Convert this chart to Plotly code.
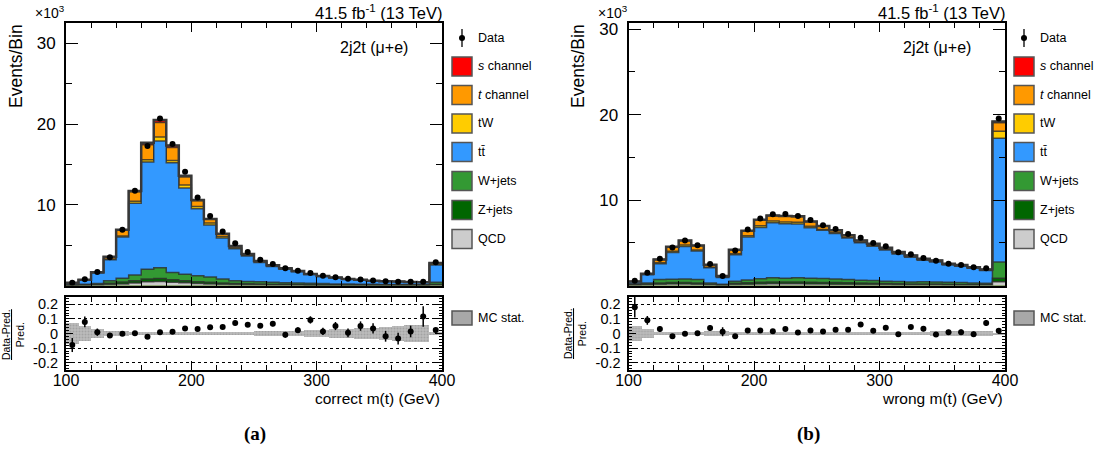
import numpy as np
import plotly.graph_objects as go

W, H = 1101, 453

# ---------------- data (events, in units of 10^3 per 10 GeV bin) ----------------
bin_edges = list(range(100, 401, 10))
bin_centers = [e + 5 for e in bin_edges[:-1]]

# panel (a): correct m(t)
a_qcd = [0.01, 0.03, 0.06, 0.12, 0.20, 0.30, 0.45, 0.50, 0.40, 0.33, 0.26, 0.20, 0.16, 0.12, 0.10,
         0.08, 0.07, 0.06, 0.05, 0.04, 0.035, 0.03, 0.03, 0.025, 0.02, 0.02, 0.02, 0.02, 0.02, 0.06]
a_zjets = [0.02, 0.04, 0.07, 0.15, 0.22, 0.30, 0.35, 0.38, 0.30, 0.27, 0.22, 0.20, 0.16, 0.13, 0.11,
           0.10, 0.09, 0.08, 0.07, 0.06, 0.055, 0.05, 0.045, 0.04, 0.035, 0.03, 0.03, 0.03, 0.03, 0.10]
a_wjets = [0.05, 0.08, 0.12, 0.31, 0.48, 0.70, 1.20, 1.32, 0.90, 0.80, 0.72, 0.65, 0.48, 0.35, 0.29,
           0.27, 0.24, 0.21, 0.18, 0.17, 0.15, 0.12, 0.105, 0.095, 0.085, 0.08, 0.07, 0.06, 0.05, 0.24]
a_ttbar = [0.25, 0.53, 1.30, 2.62, 5.10, 8.90, 13.30, 15.70, 13.60, 10.70, 8.30, 6.45, 5.10, 3.95, 3.15,
           2.40, 1.95, 1.67, 1.40, 1.08, 0.88, 0.73, 0.60, 0.51, 0.43, 0.38, 0.34, 0.31, 0.28, 2.15]
a_tw = [0.005, 0.01, 0.03, 0.08, 0.15, 0.25, 0.30, 0.50, 0.30, 0.35, 0.30, 0.25, 0.18, 0.13, 0.10,
        0.08, 0.06, 0.05, 0.04, 0.03, 0.025, 0.02, 0.015, 0.012, 0.012, 0.012, 0.012, 0.008, 0.008, 0.10]
a_tch = [0.014, 0.028, 0.065, 0.25, 0.70, 1.17, 1.85, 1.80, 1.60, 1.00, 0.72, 0.46, 0.30, 0.21, 0.14,
         0.115, 0.085, 0.076, 0.057, 0.038, 0.033, 0.028, 0.023, 0.016, 0.016, 0.016, 0.016, 0.01, 0.01, 0.14]
a_sch = [0.001, 0.002, 0.005, 0.02, 0.05, 0.08, 0.25, 0.30, 0.25, 0.15, 0.08, 0.04, 0.02, 0.01, 0.01,
         0.005, 0.005, 0.004, 0.003, 0.002, 0.002, 0.002, 0.002, 0.002, 0.002, 0.002, 0.002, 0.002, 0.002, 0.01]
a_data = [0.33, 0.78, 1.67, 3.50, 6.90, 11.75, 17.30, 20.70, 17.55, 14.10, 10.90, 8.60, 6.70, 5.25, 4.15,
          3.20, 2.67, 2.13, 1.84, 1.55, 1.20, 1.03, 0.83, 0.74, 0.62, 0.53, 0.47, 0.45, 0.45, 2.88]
a_ratio = [-0.079, 0.079, 0.009, -0.014, -0.002, 0.002, -0.023, 0.009, 0.012, 0.035, 0.030, 0.042, 0.044, 0.072, 0.060,
           0.053, 0.067, -0.009, 0.023, 0.093, 0.014, 0.051, 0.005, 0.051, 0.035, -0.019, -0.035, 0.014, 0.116, 0.024]
a_ratio_err = [0.048, 0.037, 0.025, 0.015, 0.010, 0.008, 0.008, 0.008, 0.008, 0.008, 0.008, 0.009, 0.010, 0.015, 0.015,
               0.015, 0.018, 0.020, 0.020, 0.025, 0.025, 0.028, 0.030, 0.032, 0.035, 0.037, 0.040, 0.040, 0.070, 0.015]
a_mcstat = [0.070, 0.050, 0.030, 0.020, 0.015, 0.010, 0.010, 0.010, 0.010, 0.010, 0.010, 0.010, 0.011, 0.012, 0.013,
            0.014, 0.015, 0.018, 0.020, 0.022, 0.025, 0.030, 0.030, 0.035, 0.040, 0.045, 0.050, 0.055, 0.060, 0.008]

# panel (b): wrong m(t)
b_qcd = [0.05, 0.10, 0.15, 0.18, 0.18, 0.15, 0.08, 0.04, 0.12, 0.15, 0.18, 0.20, 0.20, 0.20, 0.18,
         0.17, 0.16, 0.15, 0.13, 0.12, 0.11, 0.10, 0.09, 0.09, 0.08, 0.07, 0.06, 0.06, 0.05, 0.45]
b_zjets = [0.05, 0.08, 0.15, 0.17, 0.17, 0.15, 0.08, 0.04, 0.13, 0.17, 0.20, 0.22, 0.22, 0.22, 0.20,
           0.19, 0.18, 0.17, 0.15, 0.14, 0.12, 0.11, 0.10, 0.10, 0.09, 0.08, 0.07, 0.07, 0.06, 0.40]
b_wjets = [0.10, 0.12, 0.40, 0.37, 0.40, 0.40, 0.14, 0.07, 0.25, 0.33, 0.42, 0.48, 0.43, 0.50, 0.47,
           0.46, 0.41, 0.38, 0.34, 0.34, 0.27, 0.27, 0.23, 0.26, 0.23, 0.23, 0.22, 0.17, 0.14, 1.90]
b_ttbar = [0.23, 0.95, 1.84, 3.15, 3.83, 3.33, 1.77, 0.79, 3.10, 5.02, 6.00, 6.45, 6.39, 6.28, 5.92,
           5.64, 5.35, 4.85, 4.38, 4.00, 3.65, 3.20, 2.88, 2.50, 2.35, 2.02, 1.90, 1.73, 1.52, 14.50]
b_tw = [0.01, 0.03, 0.11, 0.15, 0.15, 0.14, 0.08, 0.04, 0.13, 0.16, 0.20, 0.19, 0.20, 0.20, 0.16,
        0.11, 0.08, 0.07, 0.06, 0.07, 0.06, 0.05, 0.05, 0.04, 0.04, 0.03, 0.03, 0.03, 0.03, 0.82]
b_tch = [0.03, 0.085, 0.38, 0.49, 0.52, 0.49, 0.26, 0.11, 0.43, 0.55, 0.66, 0.62, 0.66, 0.66, 0.53,
         0.37, 0.26, 0.23, 0.20, 0.20, 0.19, 0.16, 0.16, 0.13, 0.13, 0.10, 0.10, 0.08, 0.07, 1.00]
b_sch = [0.002, 0.005, 0.02, 0.03, 0.03, 0.03, 0.02, 0.01, 0.03, 0.04, 0.04, 0.04, 0.04, 0.04, 0.04,
         0.02, 0.02, 0.02, 0.02, 0.02, 0.02, 0.02, 0.01, 0.01, 0.01, 0.01, 0.01, 0.01, 0.01, 0.13]
b_data = [0.55, 1.50, 3.14, 4.46, 5.27, 4.70, 2.52, 1.11, 4.10, 6.55, 7.85, 8.35, 8.38, 8.15, 7.66,
          7.06, 6.62, 6.02, 5.60, 4.98, 4.60, 3.90, 3.67, 3.23, 2.91, 2.56, 2.41, 2.14, 2.02, 19.55]
b_ratio = [0.180, 0.090, 0.030, -0.019, -0.002, 0.002, 0.037, 0.012, -0.019, 0.021, 0.021, 0.016, 0.030, 0.007, 0.021,
           0.014, 0.025, 0.025, 0.062, 0.018, 0.039, -0.005, 0.044, 0.032, -0.007, 0.009, 0.009, -0.005, 0.072, 0.018]
b_ratio_err = [0.070, 0.030, 0.020, 0.015, 0.010, 0.010, 0.020, 0.030, 0.012, 0.010, 0.010, 0.010, 0.010, 0.010, 0.010,
               0.010, 0.010, 0.010, 0.012, 0.015, 0.015, 0.015, 0.015, 0.016, 0.016, 0.017, 0.018, 0.018, 0.020, 0.008]
b_mcstat = [0.050, 0.030, 0.012, 0.010, 0.010, 0.010, 0.020, 0.020, 0.010, 0.010, 0.010, 0.010, 0.010, 0.010, 0.010,
            0.010, 0.010, 0.010, 0.010, 0.010, 0.010, 0.010, 0.010, 0.010, 0.015, 0.015, 0.015, 0.015, 0.015, 0.005]

stack_names = ["QCD", "Z+jets", "W+jets", "tt\u0304", "tW", "<i>t</i> channel", "<i>s</i> channel"]
stack_colors = ["#cccccc", "#006600", "#339933", "#3399ff", "#ffcc00", "#ff9900", "#ff0000"]
y_max = {"a": 32.5, "b": 30.7}

FONT = "Liberation Sans, Arial, Helvetica, sans-serif"

def fx(x):
    return x / W

def fy(y):
    return 1 - y / H

fig = go.Figure()

def add_panel(comps, data, ratio, ratio_err, mcstat, xm, ym, xr, yr):
    arrs = [np.array(c, dtype=float) for c in comps]
    cums = np.cumsum(np.vstack(arrs), axis=0)
    # draw from the top of the stack downwards, each filled to zero
    for i in range(len(arrs) - 1, -1, -1):
        yv = list(cums[i]) + [cums[i][-1]]
        fig.add_trace(go.Scatter(
            x=bin_edges, y=yv, mode="lines", line=dict(shape="hv", color="rgba(45,45,45,0.8)", width=1.5),
            fill="tozeroy", fillcolor=stack_colors[i], xaxis=xm, yaxis=ym, showlegend=False, hoverinfo="skip"))
    total = cums[-1]
    fig.add_trace(go.Scatter(
        x=bin_edges, y=list(total) + [total[-1]], mode="lines",
        line=dict(shape="hv", color="#383838", width=2.5), xaxis=xm, yaxis=ym, showlegend=False, hoverinfo="skip"))
    fig.add_trace(go.Scatter(
        x=bin_centers, y=data, mode="markers", marker=dict(color="black", size=6),
        xaxis=xm, yaxis=ym, showlegend=False))
    # ratio panel
    st = np.array(mcstat)
    fig.add_trace(go.Bar(
        x=bin_centers, y=list(2 * st), base=list(-st), width=10,
        marker=dict(color="#b4b4b4", line=dict(width=0),
                    pattern=dict(shape=".", fgcolor="#8a8a8a", bgcolor="#bdbdbd", size=3, solidity=0.4)),
        xaxis=xr, yaxis=yr, showlegend=False, hoverinfo="skip"))
    fig.add_trace(go.Scatter(
        x=bin_centers, y=ratio, mode="markers", marker=dict(color="black", size=6),
        error_y=dict(type="data", array=ratio_err, thickness=1.5, width=0, color="black"),
        xaxis=xr, yaxis=yr, showlegend=False))

add_panel([a_qcd, a_zjets, a_wjets, a_ttbar, a_tw, a_tch, a_sch], a_data, a_ratio, a_ratio_err, a_mcstat,
          "x", "y", "x2", "y2")
add_panel([b_qcd, b_zjets, b_wjets, b_ttbar, b_tw, b_tch, b_sch], b_data, b_ratio, b_ratio_err, b_mcstat,
          "x3", "y3", "x4", "y4")

a_dom = [fx(66), fx(442)]
b_dom = [fx(628.5), fx(1005)]
main_dom = [fy(285.5), fy(23.3)]
ratio_dom = [fy(370), fy(297)]

def xaxis(domain, anchor, labels):
    return dict(domain=domain, anchor=anchor, range=[100, 400], showline=True, linewidth=2, linecolor="black",
                mirror="allticks", ticks="inside", tickvals=[100, 200, 300, 400], ticklen=9, tickwidth=1.2,
                tickcolor="black", showticklabels=labels, tickfont=dict(family=FONT, size=16, color="black"),
                ticklabelstandoff=-5, showgrid=False, zeroline=False, automargin=False,
                minor=dict(ticks="inside", dtick=20, tick0=100, ticklen=5, tickwidth=1, tickcolor="black",
                           showgrid=False))

def ymain(domain, anchor, top):
    return dict(domain=domain, anchor=anchor, range=[0, top], showline=True, linewidth=2, linecolor="black",
                mirror="allticks", ticks="inside", tickvals=[10, 20, 30], ticklen=12, tickwidth=1.2,
                tickcolor="black", tickfont=dict(family=FONT, size=17, color="black"), ticklabelstandoff=5,
                showgrid=False, zeroline=False, automargin=False,
                minor=dict(ticks="inside", dtick=5, tick0=0, ticklen=6, tickwidth=1, tickcolor="black",
                           showgrid=False))

def yratio(domain, anchor):
    return dict(domain=domain, anchor=anchor, range=[-0.25, 0.25], showline=True, linewidth=2,
                linecolor="black", mirror="allticks", ticks="inside", tickvals=[-0.2, -0.1, 0, 0.1, 0.2],
                ticktext=["-0.2", "-0.1", "0", "0.1", "0.2"], ticklen=7, tickwidth=1.2, tickcolor="black",
                tickfont=dict(family=FONT, size=14.5, color="black"), ticklabelstandoff=3,
                showgrid=True, gridcolor="black", griddash="dot", gridwidth=1, zeroline=False, automargin=False,
                minor=dict(ticks="inside", dtick=0.02, tick0=0, ticklen=3, tickwidth=1, tickcolor="black",
                           showgrid=False))

fig.update_layout(
    width=W, height=H, autosize=False, margin=dict(l=0, r=0, t=0, b=0, pad=0, autoexpand=False),
    paper_bgcolor="white", plot_bgcolor="white",
    bargap=0, barmode="overlay", showlegend=False,
    font=dict(family=FONT, color="black"),
    xaxis=xaxis(a_dom, "y", False), yaxis=ymain(main_dom, "x", y_max["a"]),
    xaxis2=xaxis(a_dom, "y2", True), yaxis2=yratio(ratio_dom, "x2"),
    xaxis3=xaxis(b_dom, "y3", False), yaxis3=ymain(main_dom, "x3", y_max["b"]),
    xaxis4=xaxis(b_dom, "y4", True), yaxis4=yratio(ratio_dom, "x4"),
)

annotations = []
shapes = []

def text(x, y, s, size, xanchor="center", angle=0, family=FONT, yanchor="middle"):
    annotations.append(dict(x=fx(x), y=fy(y), xref="paper", yref="paper", text=s, showarrow=False,
                            xanchor=xanchor, yanchor=yanchor, textangle=angle,
                            font=dict(family=family, size=size, color="black")))

panels = [
    dict(x0=66, x1=442, leg_box=452, leg_txt=476, title="correct m(t) (GeV)", tag="(a)", tag_x=255,
         ylab_x=16, rlab_x=13, exp_x=33),
    dict(x0=628.5, x1=1005, leg_box=1014, leg_txt=1038, title="wrong m(t) (GeV)", tag="(b)", tag_x=808,
         ylab_x=578, rlab_x=575, exp_x=596),
]
legend_y = [66.5, 95, 123.5, 152, 181, 210, 239]

for p in panels:
    text(p["x1"] + 2, 12, "41.5 fb<sup>-1</sup> (13 TeV)", 16.5, xanchor="right")
    text(p["exp_x"], 12, "\u00d710<sup>3</sup>", 14, xanchor="left")
    text(p["ylab_x"], 66, "Events/Bin", 17.5, angle=-90)
    text(p["x1"] - 68, 48, "2j2t (\u03bc+e)", 16)
    text(p["x1"], 398, p["title"], 15.5, xanchor="right")
    text(p["rlab_x"], 334, "<u>Data-Pred.</u><br>Pred.", 10.5, angle=-90)
    text(p["tag_x"], 434, "<b>" + p["tag"] + "</b>", 19, family="Liberation Serif, Times New Roman, serif")
    # legend: Data
    mx = p["leg_box"] + 10
    shapes.append(dict(type="line", xref="paper", yref="paper", x0=fx(mx), x1=fx(mx), y0=fy(29), y1=fy(47),
                       line=dict(color="black", width=1.3)))
    shapes.append(dict(type="circle", xref="paper", yref="paper", x0=fx(mx - 3), x1=fx(mx + 3),
                       y0=fy(41), y1=fy(35), fillcolor="black", line=dict(color="black", width=0)))
    text(p["leg_txt"], 38, "Data", 12.5, xanchor="left")
    order = [6, 5, 4, 3, 2, 1, 0]
    for k, idx in enumerate(order):
        yc = legend_y[k]
        shapes.append(dict(type="rect", xref="paper", yref="paper", x0=fx(p["leg_box"]), x1=fx(p["leg_box"] + 20),
                           y0=fy(yc + 9.5), y1=fy(yc - 9.5), fillcolor=stack_colors[idx],
                           line=dict(color="#555555", width=1.5)))
        text(p["leg_txt"], yc, stack_names[idx], 12.5, xanchor="left")
    shapes.append(dict(type="rect", xref="paper", yref="paper", x0=fx(p["leg_box"]), x1=fx(p["leg_box"] + 20),
                       y0=fy(325), y1=fy(311), fillcolor="#a8a8a8", line=dict(color="#555555", width=1.5)))
    text(p["leg_txt"], 318, "MC stat.", 12.5, xanchor="left")

fig.update_layout(annotations=annotations, shapes=shapes)
fig.write_html(
    "out.html",
    config={"responsive": False, "displayModeBar": False},
    post_script="document.documentElement.style.margin='0';document.body.style.margin='0';"
                "document.body.style.padding='0';document.body.style.overflow='hidden';",
)
